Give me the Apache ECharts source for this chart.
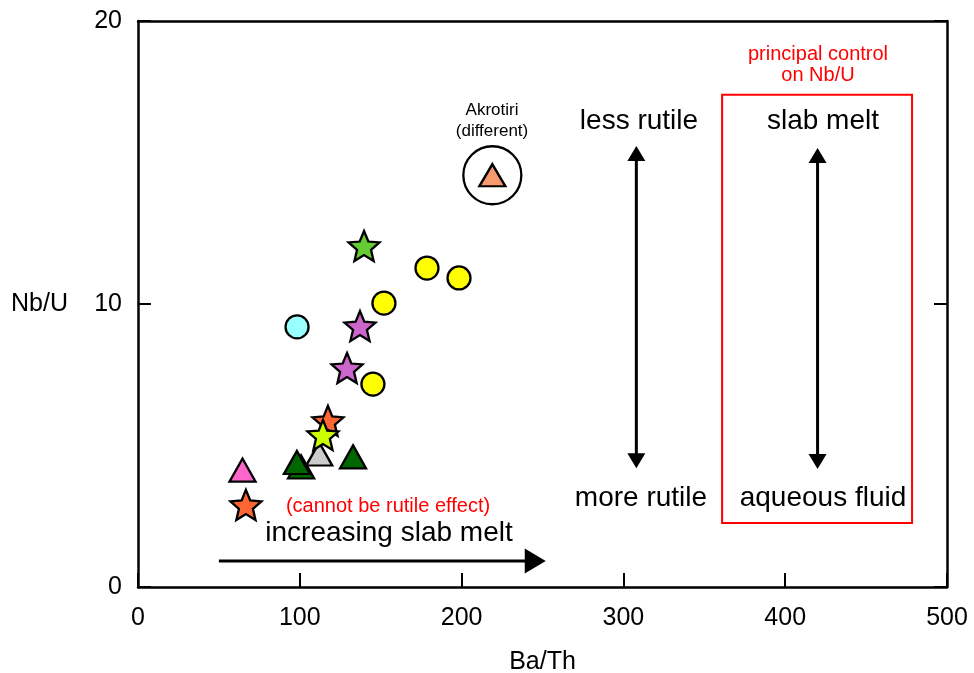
<!DOCTYPE html>
<html>
<head>
<meta charset="utf-8">
<script src="https://cdn.jsdelivr.net/npm/echarts@6/dist/echarts.min.js"></script>
<style>
  html, body { margin: 0; padding: 0; background: #fff; }
  #chart { width: 974px; height: 673px; }
</style>
</head>
<body>
<div id="chart"></div>
<script>
// Ba/Th vs Nb/U — sample groups as [Ba/Th, Nb/U]
const yellowCircles   = [[152, 10.03], [178.6, 11.27], [198.4, 10.92], [145.2, 7.17]];
const cyanCircles     = [[98.3, 9.19]];
const purpleStars     = [[137.2, 9.22], [129.2, 7.74]];
const greenStars      = [[139.7, 12.05]];
const orangeStars     = [[117.4, 5.87], [66.7, 2.9]];
const limeStars       = [[114.3, 5.37]];
const darkGreenTris   = [[100.8, 4.24], [98.2, 4.4], [132.9, 4.6]];
const grayTris        = [[112, 4.7]];
const pinkTris        = [[64.6, 4.13]];
const akrotiriTris    = [[219, 14.55]];

const xTicks = [0, 100, 200, 300, 400, 500];
const yTicks = [0, 10, 20];

// trend arrows: [x1, y1, x2, y2, doubleHeaded]
const meltArrow    = [[50, 0.92, 252, 0.92, 0]];
const rutileArrow  = [[308, 4.2, 308, 15.58, 1]];
const fluidArrow   = [[420, 4.17, 420, 15.51, 1]];
// highlighted region: [xMin, yMin, xMax, yMax]
const controlBox   = [[361, 2.26, 478.4, 17.39]];

const FONT = '"Liberation Sans", Arial, Helvetica, sans-serif';
const STAR = 'path://M100 0 L126.5 63.6 L195.1 69.1 L142.8 113.9 L158.8 180.9 L100 145 L41.2 180.9 L57.2 113.9 L4.9 69.1 L73.5 63.6 Z';

function scatter(name, data, symbol, size, color, z) {
  return {
    name, type: 'scatter', data, symbol, symbolSize: size, z: z,
    itemStyle: { color, borderColor: '#000', borderWidth: 2.3, opacity: 1 },
    emphasis: { disabled: true }, silent: true
  };
}

function arrowSeries(name, data, headW, headL, lw) {
  return {
    name, type: 'custom', data, silent: true, z: 3,
    renderItem(params, api) {
      const a = api.coord([api.value(0), api.value(1)]);
      const b = api.coord([api.value(2), api.value(3)]);
      const both = api.value(4) === 1;
      const dx = b[0] - a[0], dy = b[1] - a[1];
      const len = Math.hypot(dx, dy);
      const ux = dx / len, uy = dy / len;
      const nx = -uy, ny = ux;
      const head = (tip, dir) => {
        const bx = tip[0] - dir[0] * headL, by = tip[1] - dir[1] * headL;
        return {
          type: 'polygon',
          shape: { points: [tip, [bx + nx * headW / 2, by + ny * headW / 2], [bx - nx * headW / 2, by - ny * headW / 2]] },
          style: { fill: '#000' }
        };
      };
      const s = both ? [a[0] + ux * (headL - 1), a[1] + uy * (headL - 1)] : a;
      const e = [b[0] - ux * (headL - 1), b[1] - uy * (headL - 1)];
      const children = [
        { type: 'line', shape: { x1: s[0], y1: s[1], x2: e[0], y2: e[1] }, style: { stroke: '#000', lineWidth: lw } },
        head(b, [ux, uy])
      ];
      if (both) children.push(head(a, [-ux, -uy]));
      return { type: 'group', children };
    }
  };
}

const chart = echarts.init(document.getElementById('chart'), null, { renderer: 'canvas' });

const axisLabelStyle = { color: '#000', fontSize: 25, fontFamily: FONT };

chart.setOption({
  animation: false,
  backgroundColor: '#fff',
  textStyle: { fontFamily: FONT },
  grid: { left: 138, right: 27, top: 21, bottom: 86, containLabel: false, outerBoundsMode: 'none' },
  xAxis: [{
    type: 'value', min: xTicks[0], max: xTicks[xTicks.length - 1], interval: 100,
    name: 'Ba/Th', nameLocation: 'middle', nameGap: 63,
    nameTextStyle: axisLabelStyle,
    axisLine: { show: true, onZero: false, lineStyle: { color: '#000', width: 2.5 } },
    axisTick: { show: true, inside: true, length: 14, lineStyle: { color: '#000', width: 2 } },
    axisLabel: Object.assign({ margin: 19 }, axisLabelStyle),
    splitLine: { show: false }
  }, {
    type: 'value', position: 'top', min: xTicks[0], max: xTicks[xTicks.length - 1], interval: 100,
    axisLine: { show: true, onZero: false, lineStyle: { color: '#000', width: 2.5 } },
    axisTick: { show: false }, axisLabel: { show: false }, splitLine: { show: false }
  }],
  yAxis: [{
    type: 'value', min: yTicks[0], max: yTicks[yTicks.length - 1], interval: 10,
    name: 'Nb/U', nameLocation: 'middle', nameGap: 70, nameRotate: 0,
    nameTextStyle: axisLabelStyle,
    axisLine: { show: true, onZero: false, lineStyle: { color: '#000', width: 2.5 } },
    axisTick: { show: true, inside: true, length: 13, lineStyle: { color: '#000', width: 2 } },
    axisLabel: Object.assign({ margin: 16 }, axisLabelStyle),
    splitLine: { show: false }
  }, {
    type: 'value', position: 'right', min: yTicks[0], max: yTicks[yTicks.length - 1], interval: 10,
    axisLine: { show: true, onZero: false, lineStyle: { color: '#000', width: 2.5 } },
    axisTick: { show: true, inside: true, length: 13, lineStyle: { color: '#000', width: 2 } },
    axisLabel: { show: false }, splitLine: { show: false }
  }],
  series: [
    {
      name: 'control box', type: 'custom', data: controlBox, silent: true, z: 2,
      renderItem(params, api) {
        const p1 = api.coord([api.value(0), api.value(3)]);
        const p2 = api.coord([api.value(2), api.value(1)]);
        return {
          type: 'rect',
          shape: { x: p1[0], y: p1[1], width: p2[0] - p1[0], height: p2[1] - p1[1] },
          style: { fill: 'none', stroke: '#ff0000', lineWidth: 2 }
        };
      }
    },
    arrowSeries('slab melt trend', meltArrow, 25, 21, 3),
    arrowSeries('rutile trend', rutileArrow, 18, 15, 3),
    arrowSeries('fluid trend', fluidArrow, 18, 15, 3),
    scatter('Akrotiri ring', akrotiriTris, 'circle', 58, 'rgba(0,0,0,0)', 4),
    scatter('Akrotiri', akrotiriTris, 'triangle', [26, 22], '#f79a6e', 5),
    scatter('yellow', yellowCircles, 'circle', 23, '#ffff00', 5),
    scatter('cyan', cyanCircles, 'circle', 23, '#99ffff', 5),
    scatter('purple', purpleStars, STAR, [31, 30], '#cc66cc', 5),
    scatter('green', greenStars, STAR, [31, 30], '#66cc33', 5),
    scatter('pink', pinkTris, 'triangle', [26, 23], '#ff66cc', 5),
    scatter('dark green', darkGreenTris, 'triangle', [26, 23], '#006600', 5),
    scatter('gray', grayTris, 'triangle', [26, 23], '#cccccc', 6),
    scatter('orange', orangeStars, STAR, [31, 30], '#ff6633', 7),
    scatter('lime', limeStars, STAR, [31, 30], '#ccff00', 8)
  ],
  graphic: [
    { type: 'text', x: 492, y: 121, style: { text: 'Akrotiri\n(different)', font: '17px ' + FONT, fill: '#000', align: 'center', verticalAlign: 'middle', lineHeight: 21 } },
    { type: 'text', x: 639, y: 121, style: { text: 'less rutile', font: '28px ' + FONT, fill: '#000', align: 'center', verticalAlign: 'middle' } },
    { type: 'text', x: 641, y: 498, style: { text: 'more rutile', font: '28px ' + FONT, fill: '#000', align: 'center', verticalAlign: 'middle' } },
    { type: 'text', x: 823, y: 121, style: { text: 'slab melt', font: '28px ' + FONT, fill: '#000', align: 'center', verticalAlign: 'middle' } },
    { type: 'text', x: 823, y: 498, style: { text: 'aqueous fluid', font: '28px ' + FONT, fill: '#000', align: 'center', verticalAlign: 'middle' } },
    { type: 'text', x: 818, y: 65, style: { text: 'principal control\non Nb/U', font: '20px ' + FONT, fill: '#ff0000', align: 'center', verticalAlign: 'middle', lineHeight: 21 } },
    { type: 'text', x: 388, y: 506, style: { text: '(cannot be rutile effect)', font: '20px ' + FONT, fill: '#ff0000', align: 'center', verticalAlign: 'middle' } },
    { type: 'text', x: 389, y: 533, style: { text: 'increasing slab melt', font: '28px ' + FONT, fill: '#000', align: 'center', verticalAlign: 'middle' } }
  ]
});
</script>
</body>
</html>
